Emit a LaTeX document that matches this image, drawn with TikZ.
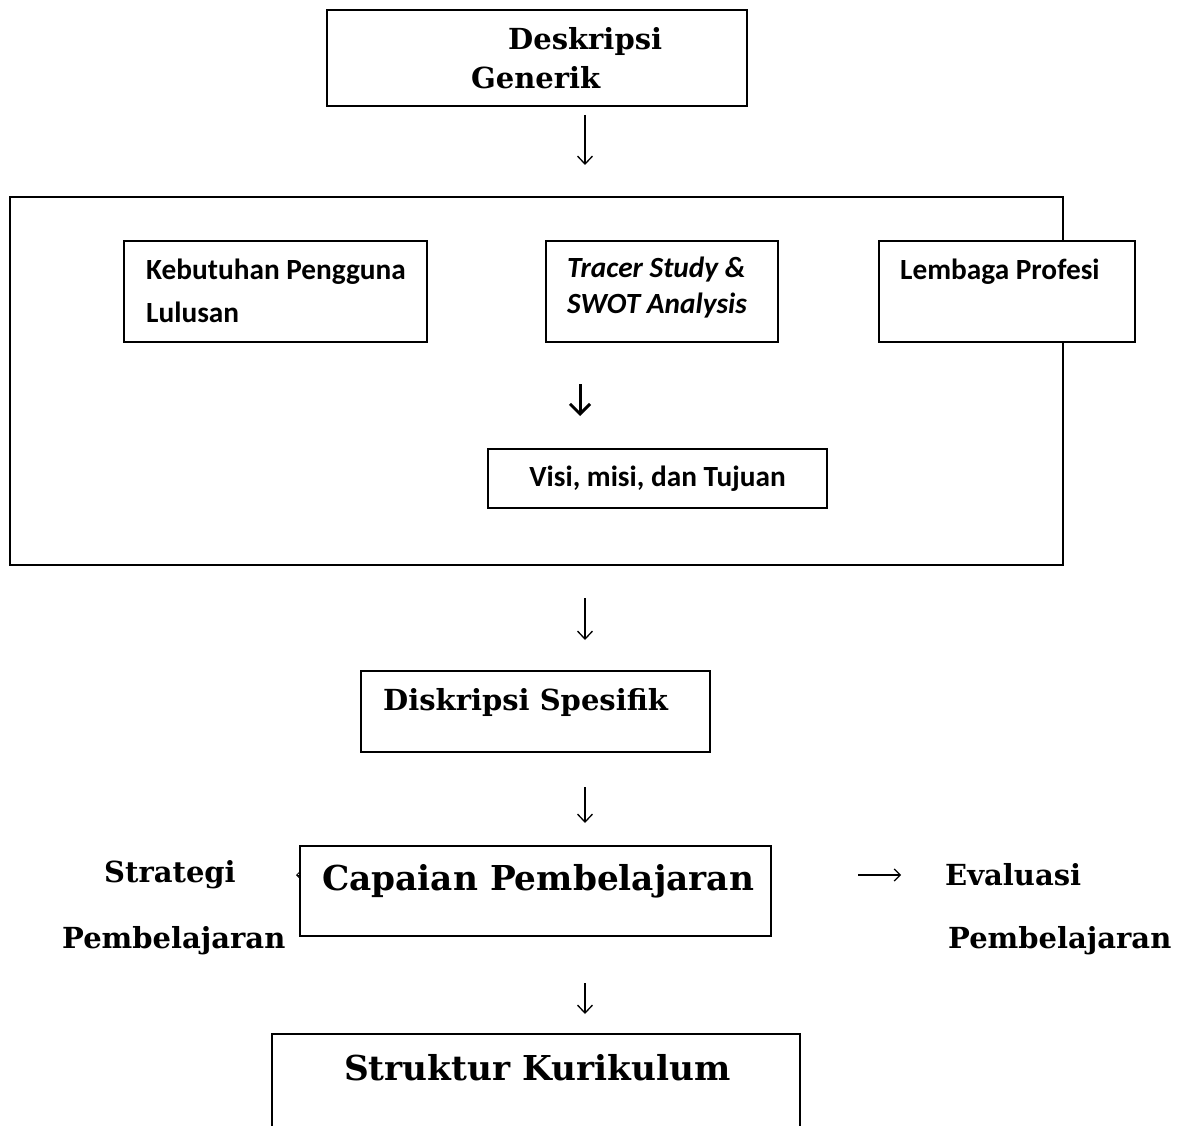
\documentclass[tikz,border=0pt]{standalone}
\usepackage{fontspec}
\setmainfont{DejaVu Serif}
\newfontfamily\carlitofam{Carlito}
\usetikzlibrary{arrows.meta}
\tikzset{
  box/.style={draw, line width=2pt, fill=white, inner sep=0pt},
  ser/.style={font=\bfseries\fontsize{29}{35}\selectfont, inner sep=0pt},
  serbig/.style={font=\bfseries\fontsize{34.3}{41}\selectfont, inner sep=0pt},
  cbfont/.style={font=\carlitofam\bfseries\fontsize{29.3}{35}\selectfont},
  cb/.style={cbfont, inner sep=0pt, anchor=west},
  arr/.style={line width=1.3pt, -{Straight Barb[length=8pt,width=15pt,line width=1.3pt]}},
  thickarr/.style={line width=3pt, -{Straight Barb[length=10pt,width=20pt,line width=3pt]}},
}
\begin{document}
\begin{tikzpicture}[x=1pt,y=-1pt]
\clip (0,0) rectangle (1187,1126);
\fill[white] (0,0) rectangle (1187,1126);
% Deskripsi Generik
\node[box, minimum width=420pt, minimum height=96pt] (gen) at (537,58) {};
\node[ser, anchor=west] (genA) at (508,42) {Deskripsi};
\node[ser, anchor=west] (genB) at (471,78) {Generik};
\coordinate (a1s) at (585,115); \coordinate (a1e) at (585,165);
\draw[arr] (a1s) -- (a1e);
% container
\node[box, minimum width=1053pt, minimum height=368pt] (cont) at (536.5,381) {};
\node[box, minimum width=303pt, minimum height=101pt] (keb) at (275.5,291.5) {};
\node[cb] (kebt) at (146,272) {Kebutuhan Pengguna};
\node[cb] (kebt2) at (146,312) {Lulusan};
\node[box, minimum width=232pt, minimum height=101pt] (tra) at (662,291.5) {};
\node[cb] (trat) at (567,270) {\itshape Tracer Study \&};
\node[cb] (trat2) at (567,306) {\itshape SWOT Analysis};
\node[box, minimum width=256pt, minimum height=101pt] (lem) at (1007,291.5) {};
\node[cb] (lemt) at (900,272) {Lembaga Profesi};
\coordinate (a2s) at (580,384); \coordinate (a2e) at (580,416);
\draw[thickarr] (a2s) -- (a2e);
\node[box, minimum width=339pt, minimum height=59pt, cbfont] (vis) at (657.5,478.5) {Visi, misi, dan Tujuan};
% arrow
\coordinate (a3s) at (585,598); \coordinate (a3e) at (585,640);
\draw[arr] (a3s) -- (a3e);
% Diskripsi Spesifik
\node[box, minimum width=349pt, minimum height=81pt] (spe) at (535.5,711.5) {};
\node[ser, anchor=west] (spet) at (383,702) {Diskripsi Spesifik};
\coordinate (a4s) at (585,787); \coordinate (a4e) at (585,823);
\draw[arr] (a4s) -- (a4e);
% Capaian
\coordinate (l1s) at (330,875); \coordinate (l1e) at (296,875);
\draw[line width=1pt, -{Straight Barb[length=4pt,width=8pt,line width=1pt]}] (l1s) -- (l1e);
\node[box, minimum width=471pt, minimum height=90pt] (cap) at (535.5,891) {};
\node[serbig, anchor=west] (capt) at (322,881) {Capaian Pembelajaran};
\node[ser, anchor=west] (str1) at (104,875) {Strategi};
\node[ser, anchor=west] (str2) at (62,941) {Pembelajaran};
\coordinate (r1s) at (858,875); \coordinate (r1e) at (901,875);
\draw[line width=1.2pt, -{Straight Barb[length=6pt,width=12pt,line width=1.2pt]}] (r1s) -- (r1e);
\node[ser, anchor=west] (ev1) at (945,875) {Evaluasi};
\node[ser, anchor=west] (ev2) at (948,941) {Pembelajaran};
\coordinate (a5s) at (585,983); \coordinate (a5e) at (585,1014);
\draw[arr] (a5s) -- (a5e);
% Struktur Kurikulum
\node[box, minimum width=528pt, minimum height=120pt] (kur) at (536,1094) {};
\node[serbig, anchor=west] (kurt) at (344,1068) {Struktur Kurikulum};
\end{tikzpicture}
\end{document}
